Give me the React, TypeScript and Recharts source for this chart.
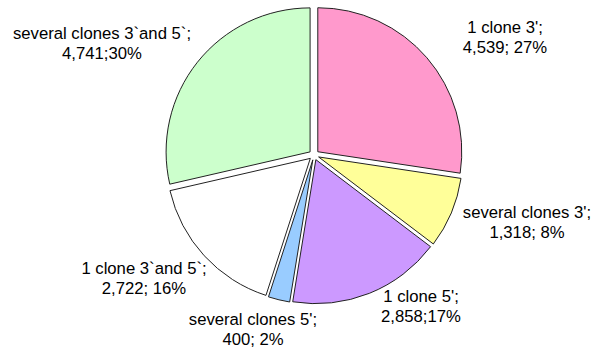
import { Cell, Pie, PieChart } from "recharts";

const categories = [
  "1 clone 3';",
  "several clones 3';",
  "1 clone 5';",
  "several clones 5';",
  "1 clone 3`and 5`;",
  "several clones 3`and 5`;",
];
const counts = [4539, 1318, 2858, 400, 2722, 4741];
const valueLabels = ["4,539; 27%", "1,318; 8%", "2,858;17%", "400; 2%", "2,722; 16%", "4,741;30%"];

const colors = ["#FF99CC", "#FFFF99", "#CC99FF", "#99CCFF", "#FFFFFF", "#CCFFCC"];
// label first-line centre, relative to pie centre
const labelOffsets: Array<[number, number]> = [
  [191, -128],
  [213, 57],
  [107, 141],
  [-61, 164],
  [-170, 113],
  [-212, -122],
];

const data = categories.map((name, i) => ({ name, value: counts[i] }));
const total = counts.reduce((a, b) => a + b, 0);

const CX = 314;
const CY = 155;
const R = 144;
const EXPLODE = 5;

function midAngleOf(i: number) {
  const before = counts.slice(0, i).reduce((a, b) => a + b, 0);
  const start = 90 - (before / total) * 360;
  const end = start - (counts[i] / total) * 360;
  return (start + end) / 2;
}

function renderLabel(props: any) {
  const i = props.index;
  const [dx, dy] = labelOffsets[i];
  const x = CX + dx;
  const y = CY + dy;
  return (
    <text
      key={`lbl-${i}`}
      x={x}
      y={y}
      textAnchor="middle"
      dominantBaseline="central"
      fontFamily="'Liberation Sans', Arial, sans-serif"
      fontSize={16.7}
      fill="#000"
    >
      <tspan x={x} y={y}>{categories[i]}</tspan>
      <tspan x={x} y={y + 20}>{valueLabels[i]}</tspan>
    </text>
  );
}

export default function App() {
  return (
    <div style={{ width: 600, height: 353, background: "#fff" }}>
      <style>{`body{margin:0}`}</style>
      <PieChart width={600} height={353} margin={{ top: 0, right: 0, bottom: 0, left: 0 }}>
        {data.map((_, k) => {
          const mid = (midAngleOf(k) * Math.PI) / 180;
          const last = k === data.length - 1;
          return (
            <Pie
              key={k}
              data={data}
              dataKey="value"
              nameKey="name"
              cx={CX + EXPLODE * Math.cos(mid)}
              cy={CY - EXPLODE * Math.sin(mid)}
              innerRadius={0}
              outerRadius={R}
              startAngle={90}
              endAngle={-270}
              isAnimationActive={false}
              labelLine={false}
              label={last ? renderLabel : false}
            >
              {data.map((item, i) => (
                <Cell
                  key={item.name}
                  fill={i === k ? colors[i] : "none"}
                  stroke={i === k ? "#222" : "none"}
                  strokeWidth={1}
                />
              ))}
            </Pie>
          );
        })}
      </PieChart>
    </div>
  );
}
